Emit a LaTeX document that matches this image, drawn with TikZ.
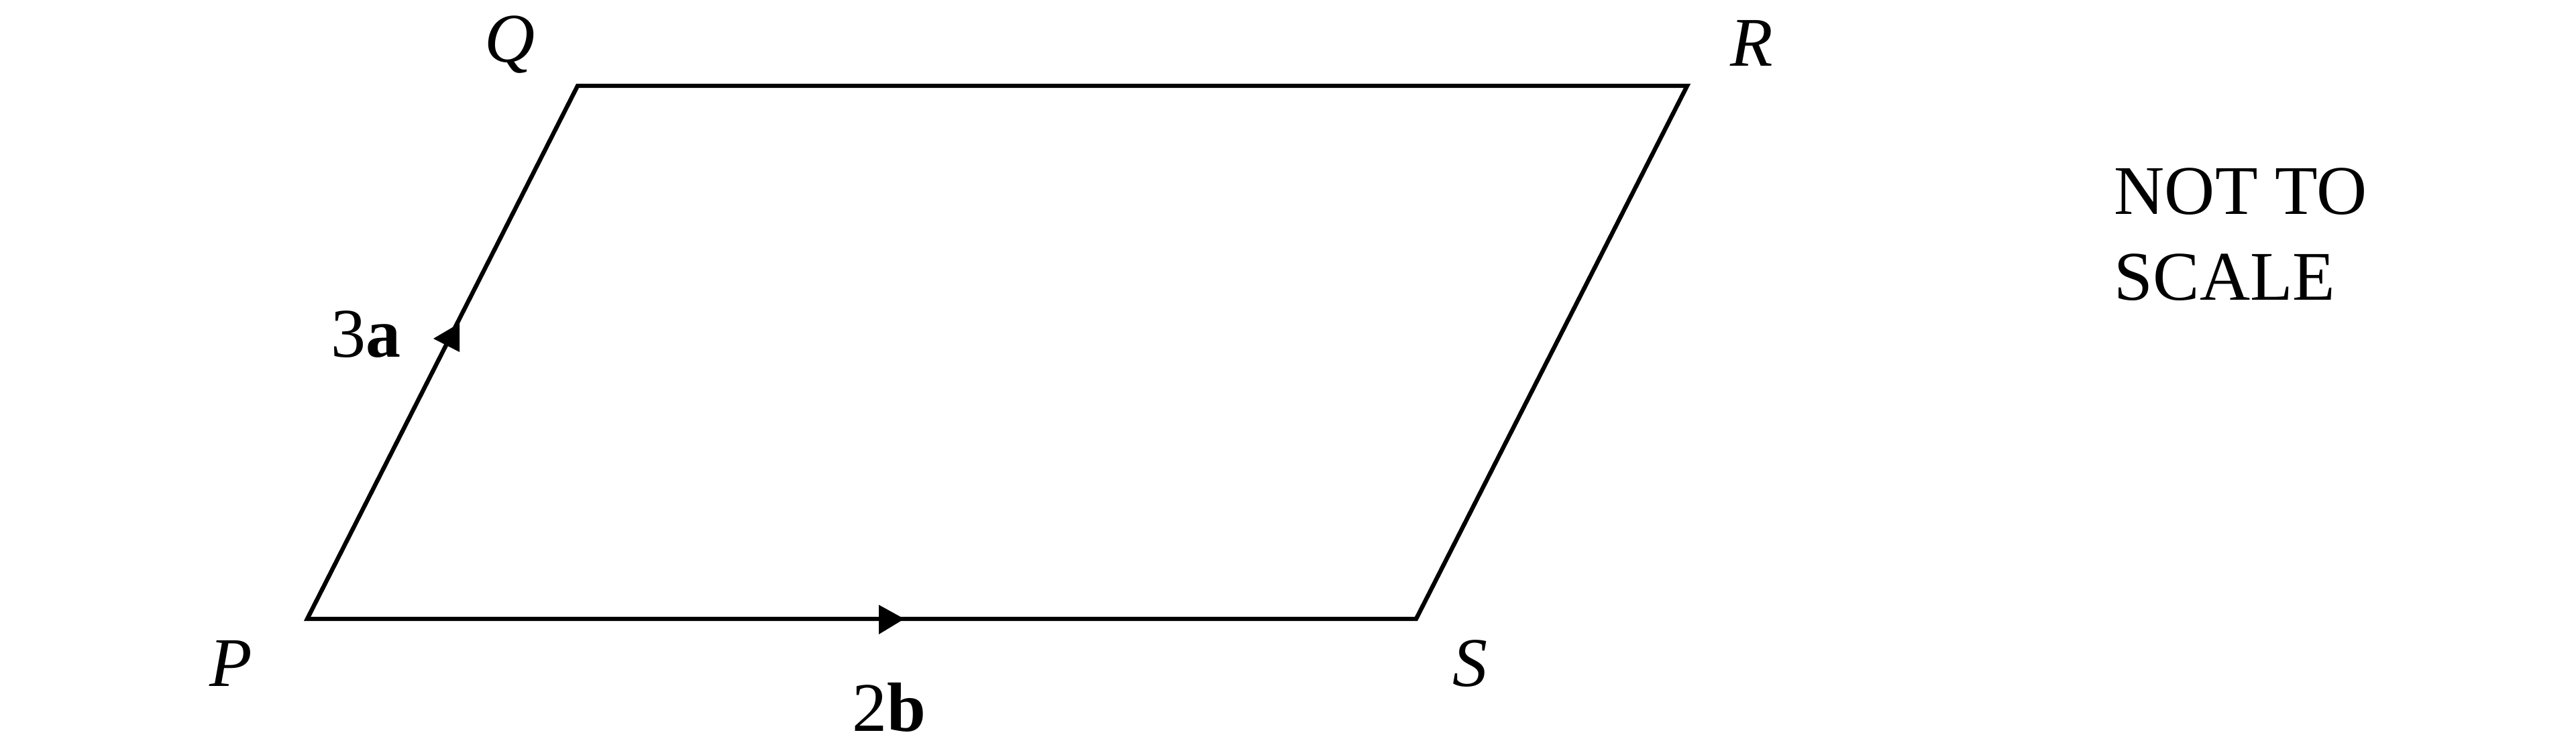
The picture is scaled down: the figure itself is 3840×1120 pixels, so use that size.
\documentclass[tikz,border=0pt]{standalone}
\usepackage{fontspec}
\setmainfont{Liberation Serif}
\begin{document}
\begin{tikzpicture}[x=0.25pt,y=-0.25pt,
  edge/.style={line width=1.6pt,black},
  tipfill/.style={fill=black,draw=none},
  vlabel/.style={inner sep=0pt,anchor=base,font=\fontsize{26}{31}\selectfont\itshape},
  veclabel/.style={inner sep=0pt,anchor=base,font=\fontsize{26}{31}\selectfont},
  note/.style={inner sep=0pt,anchor=base west,align=left,font=\fontsize{26}{32}\selectfont}]
\useasboundingbox (0,0) rectangle (3840,1120);
\coordinate (P) at (458,923);
\coordinate (Q) at (861,128);
\coordinate (R) at (2515,128);
\coordinate (S) at (2111,923);
\draw[edge] (P) -- (Q) -- (R) -- (S) -- cycle;
% arrowheads
\coordinate (a1) at (685,482);
\coordinate (a2) at (685,525);
\coordinate (a3) at (646,505);
\fill[tipfill] (a1) -- (a2) -- (a3) -- cycle;
\coordinate (b1) at (1310,902);
\coordinate (b2) at (1310,946);
\coordinate (b3) at (1348,923);
\fill[tipfill] (b1) -- (b2) -- (b3) -- cycle;
% labels
\node[vlabel] (lQ) at (760,93) {Q};
\node[vlabel] (lR) at (2611,99) {R};
\node[vlabel] (lP) at (344,1023) {P};
\node[vlabel] (lS) at (2191,1023) {S};
\node[veclabel] (l3a) at (545,533) {3\textbf{a}};
\node[veclabel] (l2b) at (1325,1090) {2\textbf{b}};
\node[note] (nts) at (3151,448) {NOT TO\\SCALE};
\end{tikzpicture}
\end{document}
